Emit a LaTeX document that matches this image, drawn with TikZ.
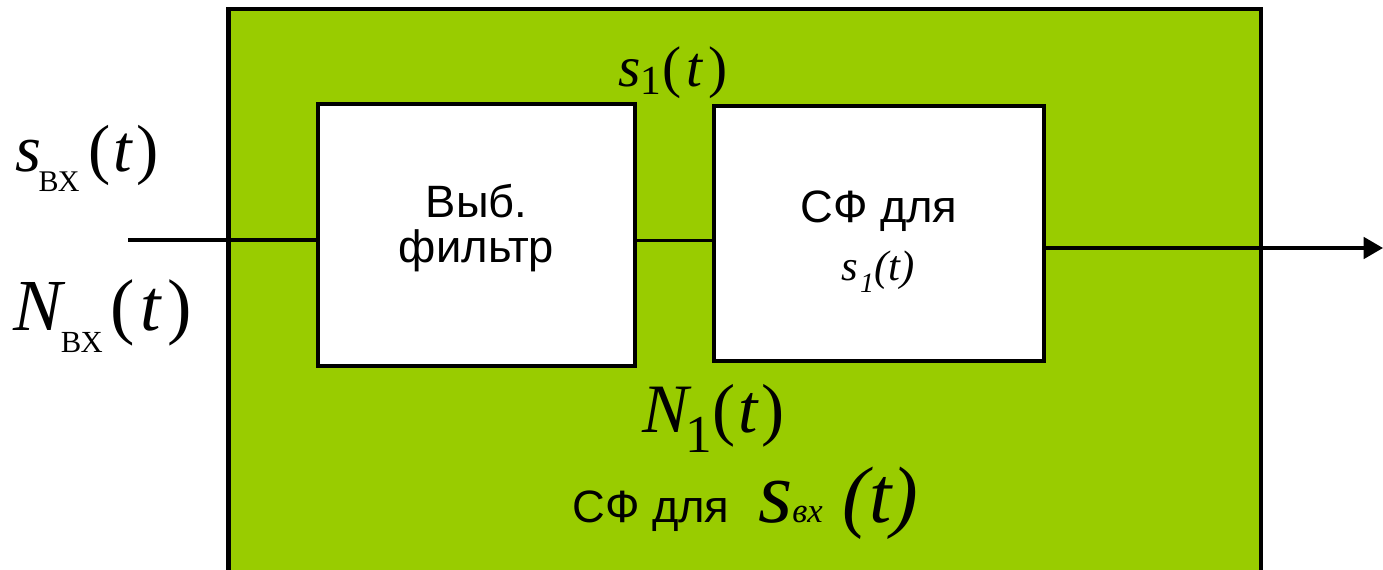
\documentclass[tikz,border=0pt]{standalone}
\usepackage{fontspec}
\usepackage{graphicx}
\setmainfont{Liberation Sans}
\newfontfamily\tms{Liberation Serif}
\usetikzlibrary{arrows.meta}
\definecolor{limegreen}{HTML}{99CC00}
\newcommand{\fs}[1]{\fontsize{#1}{#1}\selectfont}
\begin{document}
\begin{tikzpicture}[x=0.75pt,y=-0.75pt,
  outerbox/.style={draw=black,line width=3.4pt,fill=limegreen,inner sep=0},
  blk/.style={draw=black,line width=2.8pt,fill=white,inner sep=0},
  conn/.style={line width=2.8pt},
  lbl/.style={inner sep=0,anchor=base west},
  sanstxt/.style={inner sep=0,font=\fs{34}}]
\useasboundingbox (0,0) rectangle (1383,570);
\node[outerbox,minimum width=774.4pt,minimum height=422.25pt] (outer) at (744.75,290.5) {};
\node[blk,minimum width=237.75pt,minimum height=196.5pt] (b1) at (476.5,235) {};
\node[blk,minimum width=247.5pt,minimum height=191.25pt] (b2) at (879,233.5) {};
% connectors
\coordinate (in) at (128,240);
\coordinate (mid) at (675,240.5);
\coordinate (out) at (1383,248);
\draw[conn] (in) -- (in -| b1.west);
\draw[conn] (b1.east |- mid) -- (b2.west |- mid);
\draw[conn,-{Triangle[length=14.5pt,width=16pt]}] (b2.east |- out) -- (out);
% box texts
\node[sanstxt,align=center] (t1) at (476.5,228) {Выб.\\фильтр};
\node[sanstxt,anchor=base] (t2a) at (879,223) {СФ для};
\node[inner sep=0,anchor=base] (t2b) at (878,280) {\tms\fs{32}\itshape s\kern1.5pt\raisebox{-9pt}{\fs{21}1}(t)};
% labels
\node[lbl] (sin) at (15,172) {\tms\fs{50}\itshape s\kern-2pt\raisebox{-15pt}{\upshape\fs{22.5}ВХ}\kern7pt\upshape(\kern2pt\textit{t}\kern2pt)};
\node[lbl] (nin) at (13,330) {\tms\fs{55}\itshape N\kern-1pt\raisebox{-16.5pt}{\upshape\fs{23}ВХ}\kern6pt\upshape(\kern4pt\textit{t}\kern4pt)};
\node[lbl] (s1) at (618,87) {\tms\fs{43}\itshape s\kern0pt\raisebox{-6pt}{\upshape\fs{31}1}\kern1pt\upshape(\kern3.5pt\textit{t}\kern3.5pt)};
\node[lbl] (n1) at (642,432) {\tms\fs{52}\itshape N\kern-2pt\raisebox{-15pt}{\upshape\fs{40}1}\upshape(\kern2pt\textit{t}\kern2pt)};
\node[lbl] (bot) at (572,522) {\fs{34}СФ для \kern12pt{\tms\itshape\fs{66}s}{\tms\itshape\fs{26}вх}\kern15pt{\tms\itshape\fs{60}(t)}};
\end{tikzpicture}
\end{document}
